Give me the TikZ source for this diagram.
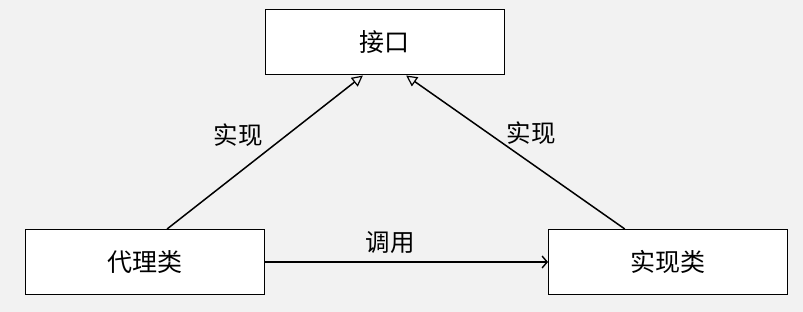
\documentclass[tikz,border=0pt]{standalone}
\usepackage{fontspec}
\newfontfamily\cjk{Noto Sans CJK SC}
\usetikzlibrary{arrows.meta,calc}
\definecolor{bg}{HTML}{F2F2F2}
\begin{document}
\begin{tikzpicture}[x=1pt,y=-1pt,
  box/.style={draw=black,fill=white,line width=1pt,minimum width=239pt,minimum height=65pt,inner sep=0pt,font=\cjk\fontsize{25}{28}\selectfont},
  lbl/.style={font=\cjk\fontsize{24.5}{28}\selectfont,inner sep=0pt},
  impl/.style={line width=1.5pt,-{Triangle[open,length=11pt,width=11pt,line width=1.2pt]}},
  call/.style={line width=1.5pt,-{Straight Barb[length=5pt,width=12pt,line width=1.4pt]}}]
\fill[bg] (0,0) rectangle (803,312);
\useasboundingbox (0,0) rectangle (803,312);
\node[box] (iface) at (384.5,42.5) {接口};
\node[box] (proxy) at (145,262) {代理类};
\node[box] (real) at (668,262) {实现类};
\draw[impl] ($(proxy.north west)!0.592!(proxy.north east)$) -- ($(iface.south west)!0.41!(iface.south east)$);
\draw[impl] ($(real.north west)!0.32!(real.north east)$) -- ($(iface.south west)!0.59!(iface.south east)$);
\draw[call] (proxy.east) -- (real.west);
\node[lbl] (l1) at (238,135) {实现};
\node[lbl] (l2) at (531,133) {实现};
\node[lbl] (l3) at (390,243) {调用};
\end{tikzpicture}
\end{document}
